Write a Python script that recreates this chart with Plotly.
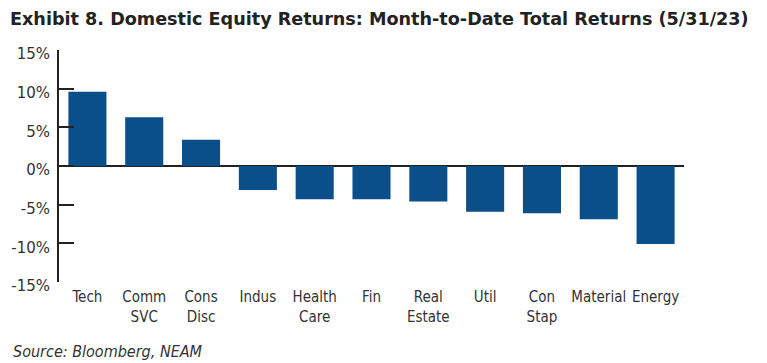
import plotly.graph_objects as go

categories = ["Tech", "Comm<br>SVC", "Cons<br>Disc", "Indus", "Health<br>Care", "Fin",
              "Real<br>Estate", "Util", "Con<br>Stap", "Material", "Energy"]
returns = [9.6, 6.3, 3.4, -3.1, -4.3, -4.3, -4.6, -5.9, -6.1, -6.9, -10.1]
y_ticks = [-15, -10, -5, 0, 5, 10, 15]
y_labels = ["-15%", "-10%", "-5%", "0%", "5%", "10%", "15%"]

FONT = "DejaVu Sans Condensed, Roboto, sans-serif"

fig = go.Figure(go.Bar(x=categories, y=returns, marker_color="#0B4F8A",
                       marker_line_width=0, hoverinfo="skip"))

fig.update_layout(
    width=767, height=363,
    margin=dict(l=59, r=83, t=50, b=81, autoexpand=False),
    paper_bgcolor="white", plot_bgcolor="white",
    bargap=0.33,
    showlegend=False,
    font=dict(family=FONT, size=15, color="#333333"),
    title=dict(text="<b>Exhibit 8. Domestic Equity Returns: Month-to-Date Total Returns (5/31/23)</b>",
               x=10 / 767, xanchor="left", xref="container", y=1 - 19 / 363, yanchor="middle",
               font=dict(family="DejaVu Sans, sans-serif", size=17.6, color="#222222")),
    annotations=[dict(text="<i>Source: Bloomberg, NEAM</i>", xref="paper", yref="paper",
                      x=(11 - 59) / 625, xanchor="left", y=(282 - 351) / 232, yanchor="middle",
                      showarrow=False,
                      font=dict(family=FONT, size=16, color="#333333"))],
)
fig.update_yaxes(range=[-15, 15], tickvals=y_ticks, ticktext=y_labels, automargin=False,
                 showgrid=False, zeroline=True, zerolinecolor="#222222", zerolinewidth=2,
                 showline=True, linecolor="#222222", linewidth=2,
                 ticks="inside", ticklen=15, tickwidth=2, tickcolor="#222222",
                 ticklabelstandoff=4, ticklabelshift=4,
                 tickfont=dict(family="DejaVu Sans, sans-serif", size=15, color="#333333"))
fig.update_xaxes(showgrid=False, showline=False, ticks="", automargin=False,
                 ticklabelstandoff=4,
                 tickfont=dict(size=15, color="#333333"))

fig.write_html("out.html", config={"displayModeBar": False},
               post_script="document.body.style.margin='0';")
